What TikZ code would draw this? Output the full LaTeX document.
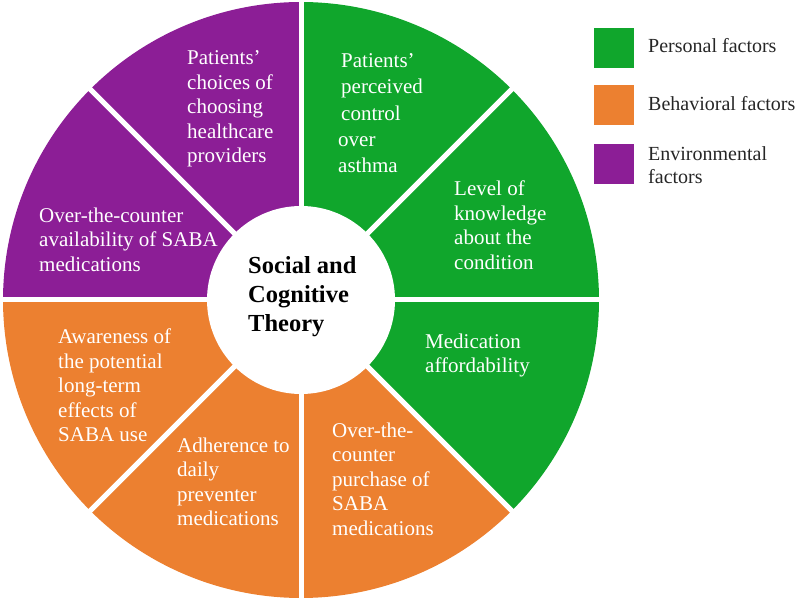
\documentclass[tikz,border=0pt]{standalone}
\usepackage{fontspec}
\setmainfont{Liberation Serif}
\definecolor{pgreen}{HTML}{10A62C}
\definecolor{porange}{HTML}{EC8030}
\definecolor{ppurple}{HTML}{8C1E96}
\begin{document}
\begin{tikzpicture}[x=1pt,y=1pt,
  lbl/.style={anchor=north west, inner sep=0pt, align=left, text=white, font=\fontsize{21}{24.5}\selectfont},
  legbox/.style={minimum size=40pt, inner sep=0pt},
  legtext/.style={anchor=north west, inner sep=0pt, align=left, text=black!85, font=\fontsize{20}{23}\selectfont},
  gap/.style={white, line width=5pt}
]
\useasboundingbox (0,0) rectangle (797,600);
\coordinate (c) at (301,300);
% sectors, outer edge built from many short segments
\foreach \a/\b/\col in {0/45/pgreen,45/90/pgreen,90/135/ppurple,135/180/ppurple,180/225/porange,225/270/porange,270/315/porange,315/360/pgreen}
  \fill[\col] (c) -- plot[domain=\a:\b, samples=60, variable=\t] ({301+298*cos(\t)},{300+298*sin(\t)}) -- cycle;
\foreach \a in {0,45,...,315}
  \draw[gap] (c) -- +(\a:305pt);
\node[circle, fill=white, minimum size=188pt, inner sep=0pt] (hub) at (c) {};
% centre text
\node[anchor=north west, inner sep=0pt, align=left, font=\bfseries\fontsize{24.5}{29}\selectfont] (theory) at (248,343.5) {Social and\\Cognitive\\Theory};
% sector texts
\node[lbl, font=\fontsize{21}{26.3}\selectfont] (t1) at (338,546.6) {\hspace{3pt}Patients’\\\hspace{3pt}perceived\\\hspace{3pt}control\\over\\asthma};
\node[lbl] (t2) at (454,419.3) {Level of\\knowledge\\about the\\condition};
\node[lbl] (t3) at (425,266.3) {Medication\\affordability};
\node[lbl] (t4) at (332,177.3) {Over-the-\\counter\\purchase of\\SABA\\medications};
\node[lbl] (t5) at (177,162.3) {Adherence to\\daily\\preventer\\medications};
\node[lbl] (t6) at (58,271.3) {Awareness of\\the potential\\long-term\\effects of\\SABA use};
\node[lbl] (t7) at (39,392.3) {Over-the-counter\\availability of SABA\\medications};
\node[lbl] (t8) at (187,549.3) {Patients’\\choices of\\choosing\\healthcare\\providers};
% legend
\node[legbox, fill=pgreen] (lg1) at (614,552) {};
\node[legbox, fill=porange] (lg2) at (614,494.5) {};
\node[legbox, fill=ppurple] (lg3) at (614,436) {};
\node[legtext] (lt1) at (648,561.7) {Personal factors};
\node[legtext] (lt2) at (648,503.7) {Behavioral factors};
\node[legtext] (lt3) at (648,453.7) {Environmental\\factors};
\end{tikzpicture}
\end{document}
